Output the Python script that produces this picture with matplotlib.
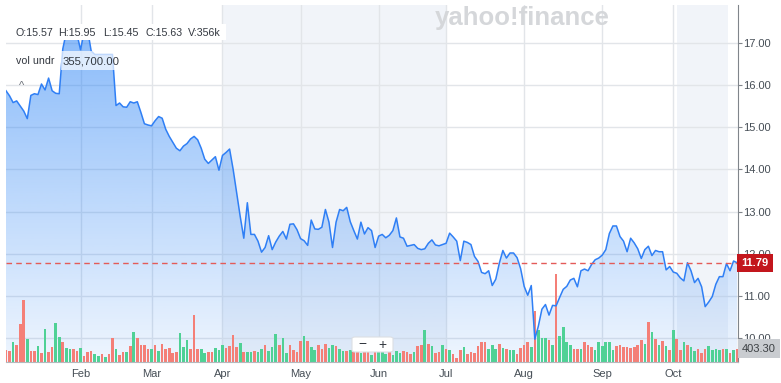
import numpy as np
import pandas as pd
import matplotlib.pyplot as plt
from matplotlib.patches import FancyBboxPatch

plt.rcParams['font.family'] = ['Liberation Sans', 'DejaVu Sans']

# --- data ---
holidays = ['2024-01-15', '2024-02-19', '2024-03-29', '2024-05-27',
            '2024-06-19', '2024-07-04', '2024-09-02']
dates = pd.bdate_range('2024-01-02', '2024-10-25', freq='C', holidays=holidays)

price = [
    15.86, 15.74, 15.58, 15.62, 15.50, 15.38, 15.20, 15.75, 15.79, 15.77,
    16.02, 15.88, 16.16, 15.86, 15.80, 15.79, 16.85, 17.25, 17.30, 17.25,
    17.20, 16.83, 17.25, 17.30, 16.80, 16.72, 16.72, 16.72, 16.72, 16.72,
    16.72, 15.51, 15.57, 15.48, 15.47, 15.60, 15.57, 15.60, 15.35, 15.08,
    15.05, 15.03, 15.15, 15.25, 15.21, 14.95, 14.78, 14.64, 14.50, 14.44,
    14.55, 14.61, 14.72, 14.78, 14.70, 14.50, 14.24, 14.14, 14.22, 14.30,
    13.98, 14.33, 14.40, 14.48, 14.00, 13.44, 12.88, 12.37, 13.21, 12.46,
    12.46, 12.30, 12.04, 12.15, 12.43, 12.10, 12.28, 12.42, 12.53, 12.35,
    12.70, 12.71, 12.57, 12.36, 12.31, 12.20, 12.80, 12.59, 12.58, 12.63,
    13.05, 12.75, 12.15, 12.75, 13.05, 13.02, 13.10, 12.76, 12.55, 12.35,
    12.75, 12.47, 12.62, 12.55, 12.15, 12.42, 12.46, 12.38, 12.44, 12.55,
    12.85, 12.40, 12.37, 12.18, 12.20, 12.22, 12.13, 12.10, 12.12, 12.25,
    12.33, 12.21, 12.19, 12.22, 12.25, 12.49, 12.40, 12.30, 11.84, 12.30,
    12.27, 12.22, 11.94, 11.82, 11.56, 11.53, 11.60, 11.25, 11.40, 11.78,
    12.08, 11.90, 12.02, 12.02, 11.91, 11.65, 11.23, 11.02, 11.25, 9.98,
    10.29, 10.69, 10.80, 10.55, 10.78, 10.77, 10.97, 11.16, 11.23, 11.38,
    11.42, 11.22, 11.60, 11.64, 11.60, 11.75, 11.86, 11.90, 11.97, 12.10,
    12.48, 12.66, 12.66, 12.41, 12.30, 12.05, 12.37, 12.26, 12.12, 11.89,
    12.10, 12.18, 11.96, 12.08, 12.05, 12.05, 11.62, 11.70, 11.57, 11.54,
    11.43, 11.36, 11.79, 11.60, 11.32, 11.42, 11.22, 10.75, 10.86, 10.99,
    11.28, 11.46, 11.46, 11.77, 11.60, 11.83, 11.79,
]

# volume in thousands
volume = [
    350, 330, 590, 520, 1140, 1870, 680, 330, 330, 470,
    270, 990, 290, 450, 1180, 760, 610, 420, 380, 380,
    330, 420, 190, 310, 330, 240, 170, 240, 140, 240,
    710, 380, 210, 310, 310, 470, 900, 710, 520, 520,
    380, 380, 520, 330, 550, 400, 420, 260, 290, 880,
    450, 660, 400, 1420, 400, 400, 260, 310, 310, 420,
    360, 500, 420, 470, 800, 450, 570, 310, 290, 310,
    330, 290, 400, 500, 330, 450, 830, 520, 710, 260,
    500, 350, 310, 640, 780, 640, 450, 350, 500, 380,
    550, 420, 520, 470, 380, 330,
    330, 360, 300, 390, 270, 330, 390, 210, 330, 390, 300,
    240, 310, 210, 330, 260, 330, 310, 240, 310, 470,
    500, 970, 550, 470, 260, 310, 500, 380, 360, 240,
    120, 350, 450, 240, 290, 260, 470, 590, 590, 400,
    500, 380, 550, 420, 380, 360, 360, 240, 420, 520,
    610, 450, 1520, 970, 730, 710, 660, 520, 2640, 780,
    1040, 590, 520, 380, 380, 400, 610, 500, 450, 350,
    590, 470, 590, 590, 350, 470, 500, 450, 450, 420,
    450, 500, 660, 550, 1210, 900, 680, 500, 640, 470,
    350, 950, 680, 350, 610, 520, 450, 330, 380, 260,
    400, 470, 350, 380, 350, 380, 380, 260, 360, 403,
]

# g = up day, r = down day
vol_dir = ("rrgrrrgrrg" "rgrrggrggr" "rgrrrggrgr" "rgrrgrgrrr" "rgrgrrrrrg"
           "ggrrrggrrg" "ggrrrrgrgg" "rggrgggrgg" "rrrrgrggrr" "rggrgg"
           "rgrrgrrgrgg"
           "grgggrrrgr" "rgrgrrgrgr" "rrgrrrrrrg" "ggrgrggrrr" "rgrgggrgrg"
           "gggrrgrrrg" "gggggrrrrr" "rrrgrgrgrg" "rgrrgrggrr" "rggggrgrgr")

ohlc_text = ['O:15.57', 'H:15.95', 'L:15.45', 'C:15.63', 'V:356k']
price_ticks = [10, 11, 12, 13, 14, 15, 16, 17]
hover_volume = 355700
last_volume = '403.30'

assert len(price) == len(dates) == len(volume) == len(vol_dir)

# --- layout ---
W, H = 781, 383
fig = plt.figure(figsize=(W / 100, H / 100), dpi=100)
ax = fig.add_axes([6 / W, 21 / H, 732 / W, 357 / H])

x = np.arange(len(price))
ymin, ymax = 9.44, 17.89
ax.set_xlim(0, len(price) - 0.75)
ax.set_ylim(ymin, ymax)

months = pd.Series(dates.month)
month_idx = [i for i in range(1, len(dates)) if months[i] != months[i - 1]]
month_lbl = [dates[i].strftime('%b') for i in month_idx]
start = {dates[i].month: i for i in month_idx}

# quarter shading
band = '#f1f4f9'
ax.axvspan(start[4], start[7], color=band, lw=0, zorder=0)
ax.axvspan(start[10] + 1, len(price) - 3.5, color=band, lw=0, zorder=0)

for t in price_ticks:
    ax.axhline(t, color='#e2e5e9', lw=1, zorder=0.5)
for i in month_idx:
    ax.axvline(i, color='#e2e5e9', lw=1, zorder=0.5)

# gradient area under the price line
poly = ax.fill_between(x, price, ymin, color='none', lw=0)
grad = np.zeros((256, 1, 4))
grad[:, 0, 0] = 47 / 255
grad[:, 0, 1] = 134 / 255
grad[:, 0, 2] = 246 / 255
grad[:, 0, 3] = np.linspace(0.08, 0.6, 256)
im = ax.imshow(grad, extent=[0, len(price), ymin, ymax], origin='lower',
               aspect='auto', zorder=1)
im.set_clip_path(poly.get_paths()[0], transform=ax.transData)

# volume underlay, scaled into the bottom of the price axis
vol = np.array(volume, dtype=float)
vol_top = vol.max() * 4.06
heights = vol / vol_top * (ymax - ymin)
colors = ['#4fd195' if d == 'g' else '#f47f77' for d in vol_dir]
ax.bar(x, heights, bottom=ymin, width=0.74, color=colors, lw=0, zorder=2)

ax.plot(x, price, color='#2f7ff5', lw=1.1, zorder=3)
ax.axhline(price[-1], color='#e45b58', lw=1, ls=(0, (4, 3)), zorder=3)

# axes styling
for s in ['top', 'left']:
    ax.spines[s].set_visible(False)
ax.spines['right'].set_color('#80858b')
ax.spines['bottom'].set_color('#b4b8bd')
ax.yaxis.tick_right()
ax.set_yticks(price_ticks)
ax.set_yticklabels([f'{t:.2f}' for t in price_ticks])
ax.tick_params(axis='y', length=3, width=0.8, color='#80858b', pad=1,
               labelsize=8, labelcolor='#464e56')
ax.set_xticks(month_idx)
ax.set_xticklabels(month_lbl)
ax.tick_params(axis='x', length=0, pad=5, labelsize=8, labelcolor='#464e56')


def fx(px):
    return px / W


def fy(py):
    return 1 - py / H


# watermark
fig.text(fx(522), fy(18), 'yahoo!finance', ha='center', va='center',
         fontsize=18.5, fontweight='bold', color='#d5d7da', zorder=4)

# OHLC readout
fig.patches.append(FancyBboxPatch((fx(12), fy(40)), fx(214), 16 / H,
                                  boxstyle='square,pad=0', transform=fig.transFigure,
                                  facecolor='white', edgecolor='none', zorder=4))
for lbl, px in zip(ohlc_text, [15.7, 58.3, 103.3, 145, 188.3]):
    fig.text(fx(px), fy(32.5), lbl, ha='left', va='center', fontsize=7.7,
             color='#333840', zorder=5)

fig.patches.append(FancyBboxPatch((fx(12), fy(70)), fx(48), 19 / H,
                                  boxstyle='square,pad=0', transform=fig.transFigure,
                                  facecolor='white', edgecolor='none', alpha=0.85, zorder=4))
fig.patches.append(FancyBboxPatch((fx(61), fy(70)), fx(62), 19 / H,
                                  boxstyle='square,pad=0', transform=fig.transFigure,
                                  facecolor='white', edgecolor='none', alpha=0.7, zorder=4))
fig.text(fx(15.7), fy(61), 'vol undr', ha='left', va='center', fontsize=7.7,
         color='#333840', zorder=5)
fig.text(fx(63), fy(61), f'{hover_volume:,.2f}', ha='left', va='center',
         fontsize=8.2, color='#333840', zorder=5)
fig.text(fx(21.5), fy(86), '^', ha='center', va='center', fontsize=8,
         color='#6b7078', zorder=5)

# zoom controls
fig.patches.append(FancyBboxPatch((fx(352), fy(352)), fx(41), 15 / H,
                                  boxstyle='round,pad=0,rounding_size=0.004',
                                  transform=fig.transFigure, facecolor='white',
                                  edgecolor='#dcdfe3', lw=0.8, zorder=4))
fig.text(fx(362), fy(344.5), '−', ha='center', va='center', fontsize=10,
         color='#333840', zorder=5)
fig.text(fx(382), fy(344.5), '+', ha='center', va='center', fontsize=10,
         color='#333840', zorder=5)

# last price / last volume badges
fig.text(fx(741), fy(263), f'{price[-1]:.2f}', ha='left', va='center', fontsize=8,
         fontweight='bold', color='white', zorder=6,
         bbox=dict(boxstyle='square,pad=0.4', facecolor='#c3161d', edgecolor='none'))
fig.text(fx(742), fy(348.5), last_volume, ha='left', va='center', fontsize=8,
         color='#3c4043', zorder=6,
         bbox=dict(boxstyle='square,pad=0.4', facecolor='#c9ccd0', edgecolor='none'))

fig.savefig('out.png', dpi=100)
